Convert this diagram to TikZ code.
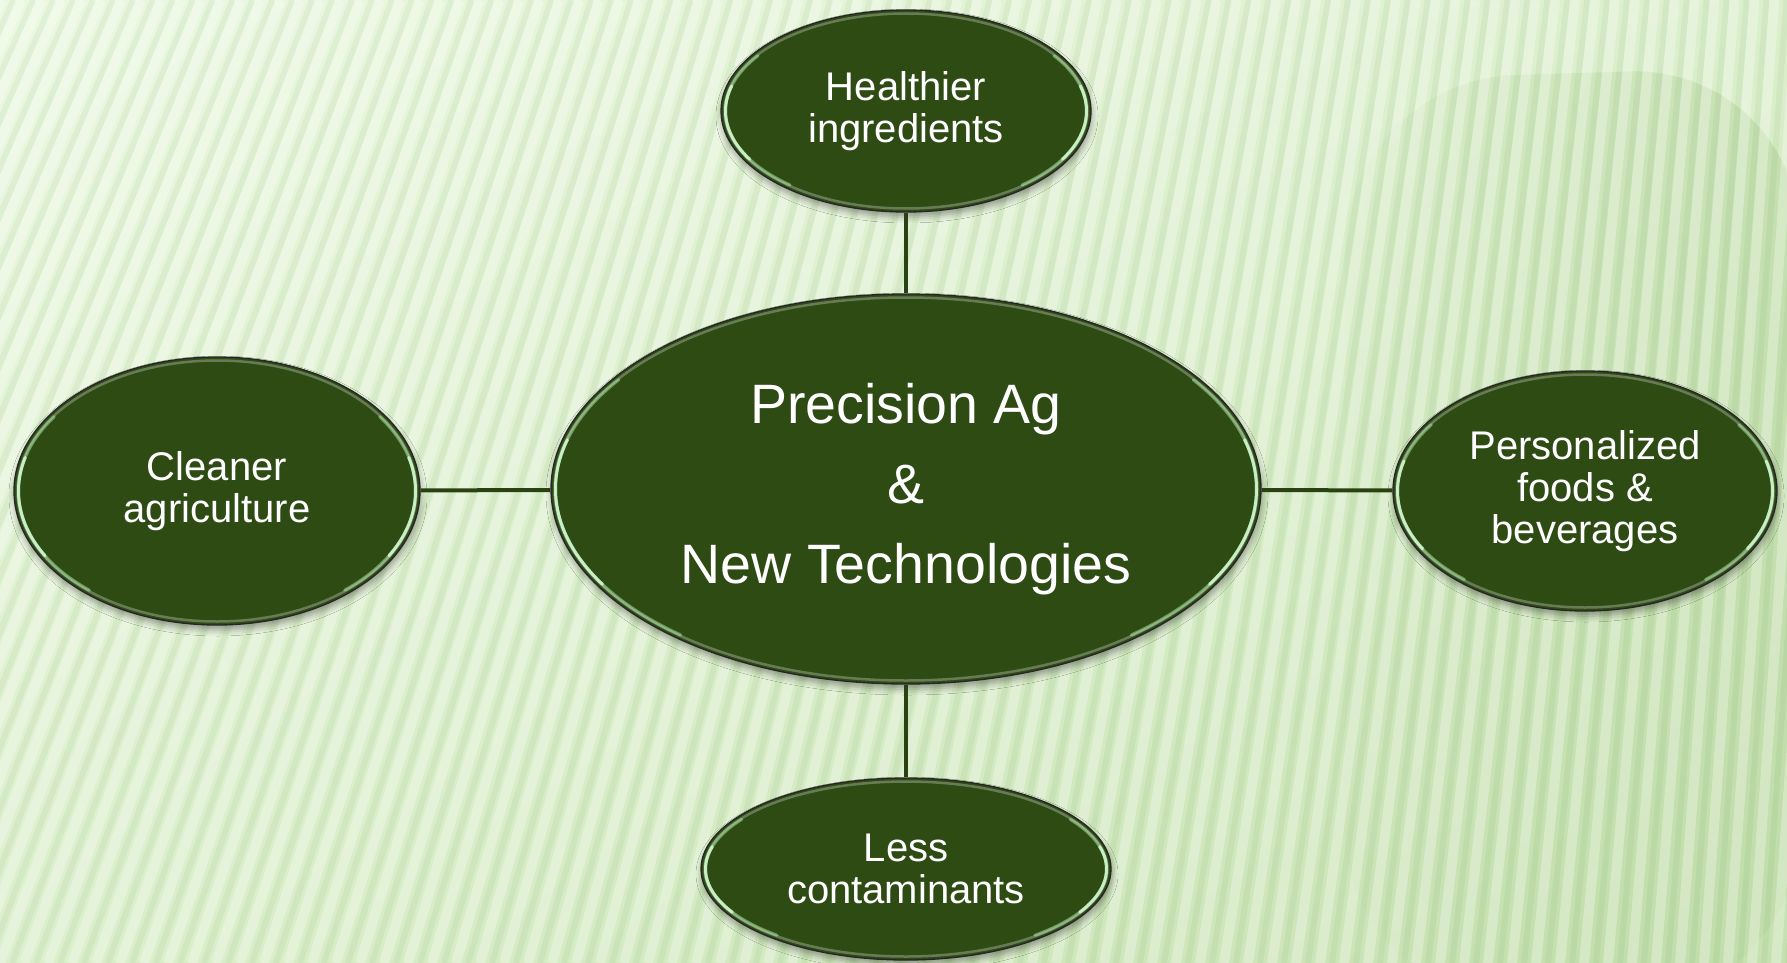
\documentclass[tikz,border=0pt]{standalone}
\usepackage{fontspec}
\setmainfont{Liberation Sans}
\usetikzlibrary{shapes.geometric,shadows.blur,calc,shadings,fadings}
\definecolor{bubfill}{HTML}{2E4B14}
\definecolor{bgA}{HTML}{EAF8E0}
\definecolor{bgM}{HTML}{DCEFCC}
\definecolor{bgB}{HTML}{C6E1B0}
\definecolor{bgC}{HTML}{BFDCA8}
\definecolor{conncol}{HTML}{2A4212}
\tikzfading[name=softleft, left color=transparent!85, right color=transparent!0]
\tikzset{
  bub/.style={ellipse, fill=bubfill, draw=black!85, line width=1.3, inner sep=0pt,
    text=white, align=center,
    blur shadow={shadow xshift=1pt, shadow yshift=-5pt, shadow blur radius=6pt, shadow opacity=35}},
  ring/.style={draw=white!55!bubfill, line width=2.5, opacity=0.5},
  glossA/.style={draw=white!75!green, line width=3, line cap=round, opacity=0.45},
  glossB/.style={draw=white!85!green, line width=3, line cap=round, opacity=0.8},
  conn/.style={draw=conncol, line width=4},
  smalltext/.style={font=\fontsize{40}{42}\selectfont},
  bigtext/.style={font=\fontsize{55.5}{80}\selectfont},
  stripeL/.style={draw=white, line width=10, opacity=0.3},
  stripeD/.style={draw=green!30!black, line width=6, opacity=0.045},
}
\newcommand\bubble[7]{%
  \node[bub,#6,minimum width=#4*2,minimum height=#5*2] (#1) at (#2,#3) {#7};
  \draw[ring] (#1.center) ellipse [x radius=#4-3.5, y radius=#5-3.5];
  \draw[glossA] (#1.center) ++(130:#4-4.5 and #5-4.5) arc [start angle=130, end angle=215, x radius=#4-4.5, y radius=#5-4.5];
  \draw[glossB] (#1.center) ++(150:#4-4.5 and #5-4.5) arc [start angle=150, end angle=195, x radius=#4-4.5, y radius=#5-4.5];
  \draw[glossA] (#1.center) ++(-35:#4-4.5 and #5-4.5) arc [start angle=-35, end angle=50, x radius=#4-4.5, y radius=#5-4.5];
  \draw[glossB] (#1.center) ++(-15:#4-4.5 and #5-4.5) arc [start angle=-15, end angle=30, x radius=#4-4.5, y radius=#5-4.5];
}
\begin{document}
\begin{tikzpicture}[x=1pt,y=-1pt]
\useasboundingbox (0,0) rectangle (1787,963);
% background
\shade[upper left=bgA, upper right=bgM, lower left=bgM, lower right=bgB] (0,0) rectangle (1787,963);
\begin{scope}
\clip (0,0) rectangle (1787,963);
\fill[bgC, opacity=0.75, rounded corners=170, path fading=softleft] (1345,1000) -- (1345,80) -- (1800,66) -- (1800,1000) -- cycle;
\foreach \i in {-20,...,76} {
  \pgfmathsetmacro\xb{\i*24}
  \pgfmathsetmacro\sh{max(70,360-0.17*\xb)}
  \draw[stripeL] (\xb,963) -- (\xb+\sh,0);
  \draw[stripeD] (\xb+12,963) -- (\xb+12+\sh,0);
}
\end{scope}
% bubbles
\bubble{center}{906}{489}{355}{195}{bigtext}{Precision Ag\\\&\\New Technologies}
\bubble{top}{906}{111}{185}{101}{smalltext}{Healthier\\ingredients}
\bubble{left}{217}{491}{203}{134}{smalltext}{Cleaner\\agriculture}
\bubble{right}{1585}{491}{192}{120}{smalltext}{Personalized\\foods \&\\beverages}
\bubble{bottom}{906}{869}{205}{91}{smalltext}{Less\\contaminants}
% connectors
\draw[conn] (top) -- (center);
\draw[conn] (center) -- (bottom);
\draw[conn] (left) -- (center);
\draw[conn] (center) -- (right);
\end{tikzpicture}
\end{document}
